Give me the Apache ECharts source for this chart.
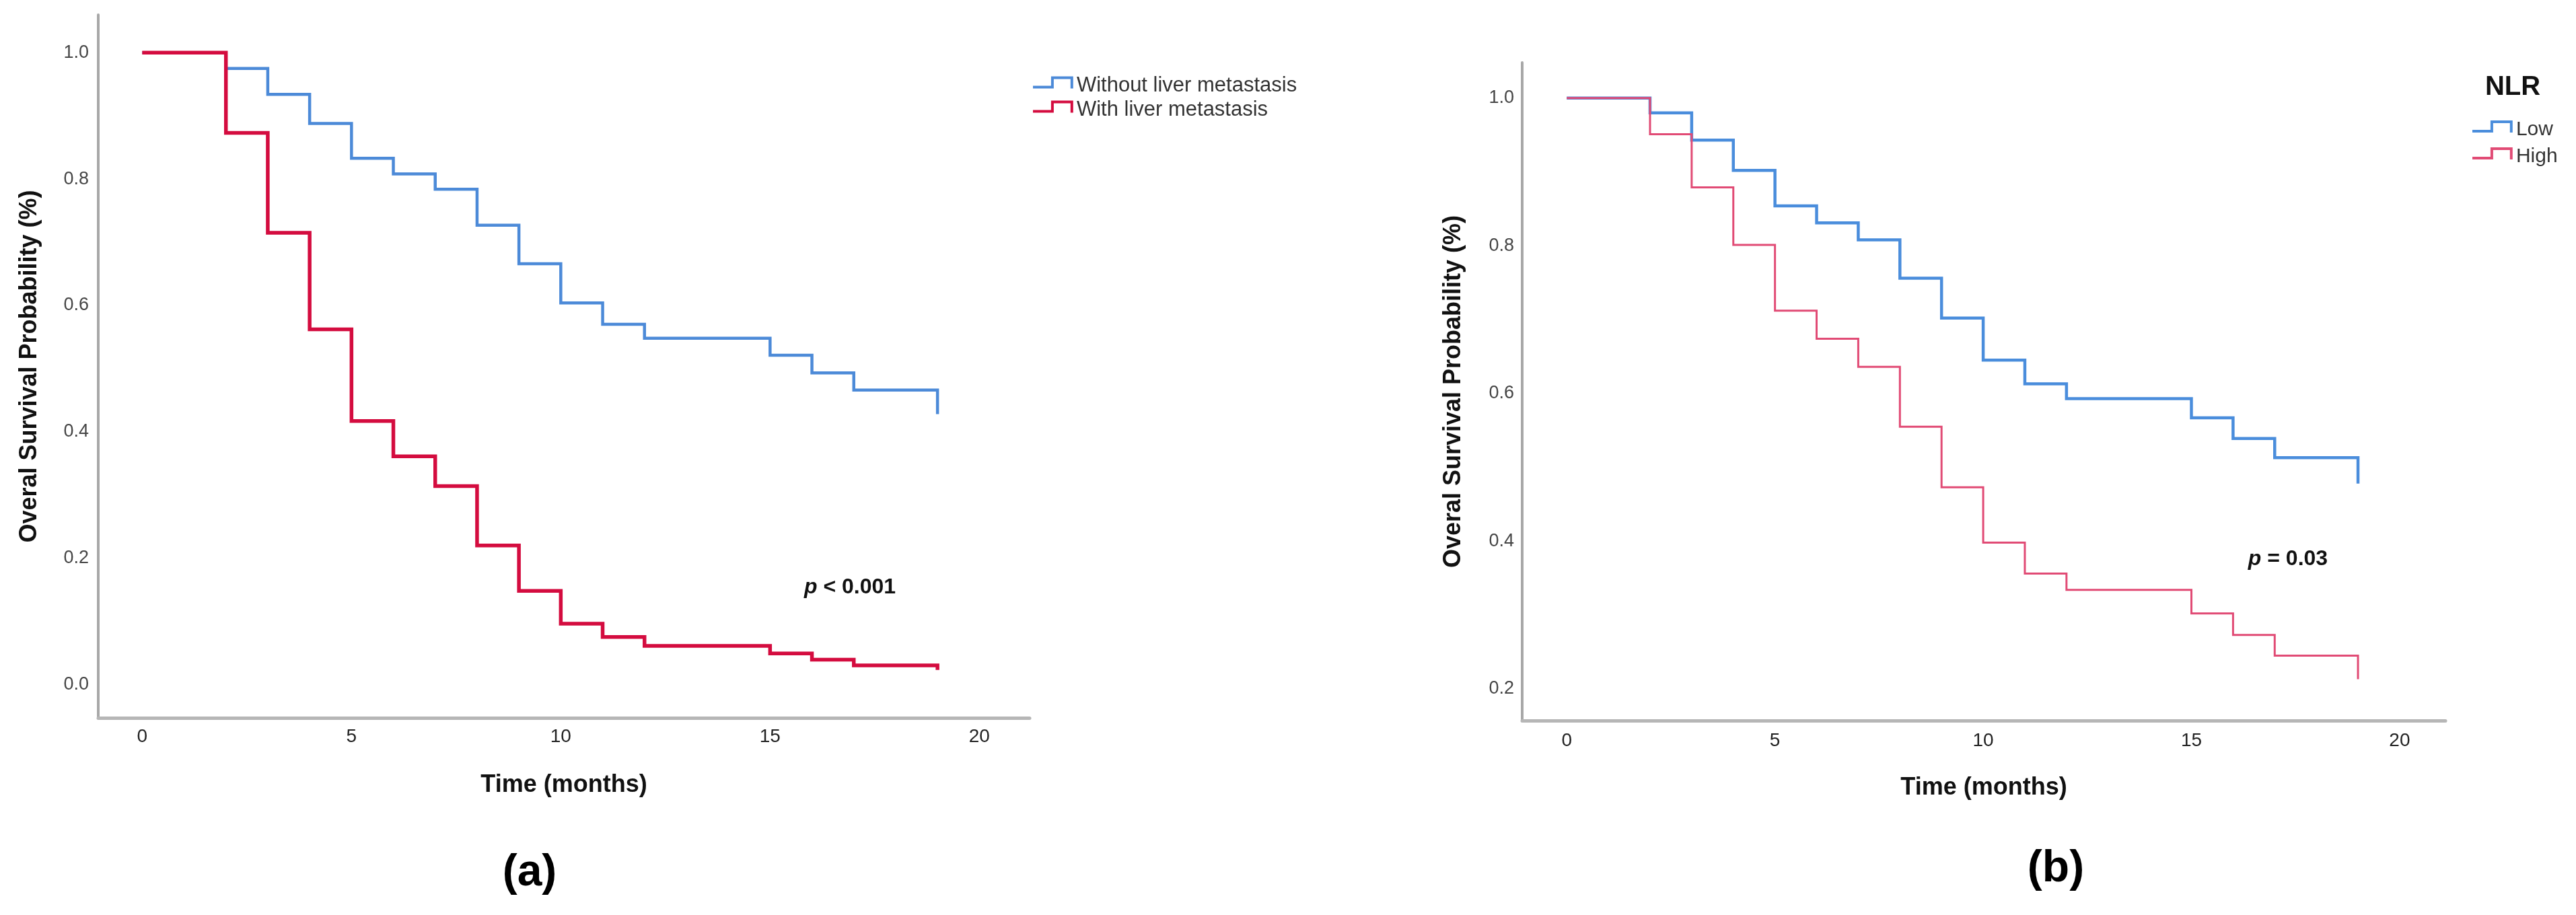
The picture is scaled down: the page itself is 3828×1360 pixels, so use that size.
<!DOCTYPE html>
<html>
<head>
<meta charset="utf-8">
<script src="https://cdn.jsdelivr.net/npm/echarts@6/dist/echarts.min.js"></script>
<style>
html,body{margin:0;padding:0;background:#fff;}
#c{width:3828px;height:1360px;}
</style>
</head>
<body>
<div id="c"></div>
<script>
// ---- data ----
const months = [0, 2, 3, 4, 5, 6, 7, 8, 9, 10, 11, 12, 15, 16, 17, 19];
const withoutLiverMet = [1.0, 0.975, 0.934, 0.888, 0.833, 0.808, 0.784, 0.727, 0.666, 0.604, 0.570, 0.548, 0.521, 0.493, 0.466, 0.428];
const withLiverMet    = [1.0, 0.873, 0.715, 0.562, 0.417, 0.361, 0.314, 0.220, 0.148, 0.096, 0.075, 0.061, 0.049, 0.039, 0.030, 0.023];
const nlrLow  = [1.0, 0.980, 0.943, 0.902, 0.854, 0.831, 0.808, 0.756, 0.702, 0.645, 0.613, 0.593, 0.567, 0.539, 0.513, 0.478];
const nlrHigh = [1.0, 0.951, 0.879, 0.801, 0.712, 0.674, 0.636, 0.555, 0.473, 0.398, 0.356, 0.334, 0.302, 0.273, 0.245, 0.213];
const xTickValues = [0, 5, 10, 15, 20];
const yTickValuesA = [0.0, 0.2, 0.4, 0.6, 0.8, 1.0];
const yTickValuesB = [0.2, 0.4, 0.6, 0.8, 1.0];
const legendA = ['Without liver metastasis', 'With liver metastasis'];
const legendB = ['Low', 'High'];

const FONT = '"Liberation Sans", Arial, Helvetica, sans-serif';
// step-shaped legend icon (with a tiny invisible point below so the step sits higher)
const stepIcon = 'path://M0,14 L27,14 L27,0 L60,0 L60,18 L56,18 L56,4 L31,4 L31,18 L0,18 Z M0,28 L0.1,28 L0.1,28.1 Z';

function pts(arr) { return months.map((m, i) => [m, arr[i]]); }

function xAxisCfg(grid, min, max, margin) {
  return {
    type: 'value', gridIndex: grid, min: min, max: max,
    axisLine: { show: true, onZero: false, lineStyle: { color: '#b6b6b6', width: 5 } },
    axisTick: { show: false },
    splitLine: { show: false },
    axisLabel: { customValues: xTickValues, fontSize: 28, color: '#222', margin: margin, fontFamily: FONT },
    name: 'Time (months)', nameLocation: 'middle', nameGap: 82,
    nameTextStyle: { fontSize: 36, fontWeight: 'bold', color: '#111', fontFamily: FONT }
  };
}
function yAxisCfg(grid, min, max, ticks, margin) {
  return {
    type: 'value', gridIndex: grid, min: min, max: max,
    axisLine: { show: true, onZero: false, lineStyle: { color: '#a8a8a8', width: 4 } },
    axisTick: { show: false },
    splitLine: { show: false },
    axisLabel: { customValues: ticks, formatter: v => Number(v).toFixed(1), fontSize: 27, color: '#454545', margin: margin, fontFamily: FONT },
    name: 'Overal Survival Probability (%)', nameLocation: 'middle', nameGap: 84, nameRotate: 90,
    nameTextStyle: { fontSize: 36, fontWeight: 'bold', color: '#111', fontFamily: FONT }
  };
}
function lineSeries(name, arr, xi, color, width, z) {
  return {
    name: name, type: 'line', step: 'end', xAxisIndex: xi, yAxisIndex: xi,
    data: pts(arr), symbol: 'none', showSymbol: false, z: z,
    itemStyle: { color: color },
    lineStyle: { color: color, width: width, cap: 'butt', join: 'miter' }
  };
}

const chart = echarts.init(document.getElementById('c'), null, { renderer: 'canvas' });
chart.setOption({
  animation: false,
  backgroundColor: '#ffffff',
  grid: [
    { left: 146, top: 22, width: 1384, height: 1045, outerBoundsMode: 'none' },
    { left: 2262, top: 93, width: 1372, height: 978, outerBoundsMode: 'none' }
  ],
  xAxis: [xAxisCfg(0, -1.05, 21.2, 14), xAxisCfg(1, -1.07, 21.1, 16)],
  yAxis: [yAxisCfg(0, -0.053, 1.06, yTickValuesA, 14), yAxisCfg(1, 0.157, 1.048, yTickValuesB, 12)],
  legend: [
    {
      orient: 'vertical', left: 1530, top: 107, itemWidth: 60, itemHeight: 28, itemGap: 5, itemTextGap: 10,
      icon: stepIcon, data: legendA, selectedMode: false,
      itemStyle: { borderWidth: 0 },
      textStyle: { fontSize: 31, color: '#333', lineHeight: 30, fontFamily: FONT }
    },
    {
      orient: 'vertical', left: 3669, top: 173, itemWidth: 60, itemHeight: 28, itemGap: 10, itemTextGap: 7,
      icon: stepIcon, data: legendB, selectedMode: false,
      itemStyle: { borderWidth: 0 },
      textStyle: { fontSize: 30, color: '#333', lineHeight: 30, fontFamily: FONT }
    }
  ],
  series: [
    lineSeries(legendA[0], withoutLiverMet, 0, '#4c8ad8', 4.5, 2),
    lineSeries(legendA[1], withLiverMet, 0, '#d40c3f', 5.5, 3),
    lineSeries(legendB[0], nlrLow, 1, '#4a8ddc', 4.5, 2),
    lineSeries(legendB[1], nlrHigh, 1, '#e14b75', 3, 3)
  ],
  graphic: [
    { type: 'text', x: 1263, y: 873, style: { text: '{i|p} < 0.001', fontSize: 32, fontWeight: 'bold', fontFamily: FONT, fill: '#111', align: 'center', verticalAlign: 'middle', textAlign: 'center', textVerticalAlign: 'middle',
      rich: { i: { fontSize: 32, fontWeight: 'bold', fontStyle: 'italic', fontFamily: FONT, fill: '#111' } } } },
    { type: 'text', x: 3400, y: 831, style: { text: '{i|p} = 0.03', fontSize: 32, fontWeight: 'bold', fontFamily: FONT, fill: '#111', align: 'center', verticalAlign: 'middle', textAlign: 'center', textVerticalAlign: 'middle',
      rich: { i: { fontSize: 32, fontWeight: 'bold', fontStyle: 'italic', fontFamily: FONT, fill: '#111' } } } },
    { type: 'text', x: 3734, y: 130, style: { text: 'NLR', fontSize: 40, fontWeight: 'bold', fontFamily: FONT, fill: '#111', align: 'center', verticalAlign: 'middle', textAlign: 'center', textVerticalAlign: 'middle' } },
    { type: 'text', x: 787, y: 1298, style: { text: '(a)', fontSize: 66, fontWeight: 'bold', fontFamily: FONT, fill: '#000', align: 'center', verticalAlign: 'middle', textAlign: 'center', textVerticalAlign: 'middle' } },
    { type: 'text', x: 3055, y: 1292, style: { text: '(b)', fontSize: 66, fontWeight: 'bold', fontFamily: FONT, fill: '#000', align: 'center', verticalAlign: 'middle', textAlign: 'center', textVerticalAlign: 'middle' } }
  ]
});
</script>
</body>
</html>
